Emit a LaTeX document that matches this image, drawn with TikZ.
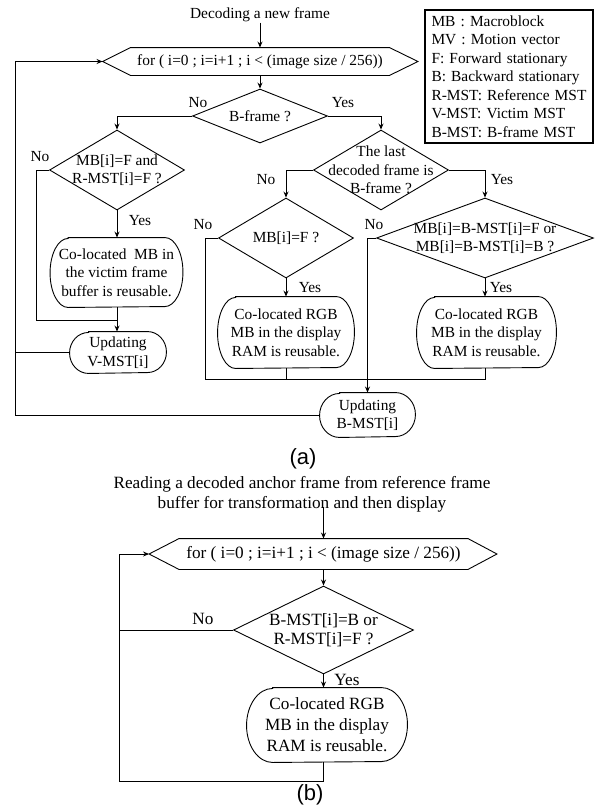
\documentclass[tikz,border=0pt]{standalone}
\usepackage{fontspec}
\setmainfont{Liberation Serif}
\newfontfamily\capfont{Liberation Sans}
\usetikzlibrary{shapes.geometric,arrows.meta,calc}

% outline of a terminal box: flat top and bottom, half-elliptical ends
% #1 node name, #2 end depth, #3 half height
\newcommand\pilloutline[3]{%
  \draw ([xshift=#2]#1.north west) -- ([xshift=-#2]#1.north east)
    arc[start angle=90,end angle=-90,x radius=#2,y radius=#3]
    -- ([xshift=#2]#1.south west)
    arc[start angle=270,end angle=90,x radius=#2,y radius=#3] -- cycle;}

% outline of a loop box: rectangle body with pointed ends
% #1 node name, #2 left tip depth, #3 right tip depth
\newcommand\hexoutline[3]{%
  \draw (#1.north west) -- (#1.north east) -- ([xshift=#3]#1.east)
    -- (#1.south east) -- (#1.south west)
    -- ([xshift=-#2]#1.west) coordinate (#1-l) -- cycle;}

\begin{document}
\begin{tikzpicture}[x=1pt,y=-1pt,
  font=\fontsize{15.4pt}{18.5pt}\selectfont,
  line width=0.9pt,
  flow/.style={-{Stealth[length=6pt,width=5pt]}},
  cond/.style={diamond,draw,inner sep=0pt},
  txt/.style={align=center,inner sep=0pt},
  act/.style={rectangle,inner sep=0pt,align=center},
  subcap/.style={txt,font=\capfont\fontsize{22pt}{26pt}\selectfont}]
\useasboundingbox (0,0) rectangle (597,812);

% ---------------- (a) ----------------
\node[txt] (start) at (260,15) {Decoding a new frame};

\node[txt,minimum width=258pt,minimum height=27pt] (loopA) at (260,61.5)
  {for ( i=0 ; i=i+1 ; i < (image size / 256))};
\hexoutline{loopA}{28pt}{28.5pt}

\node[draw,line width=1.8pt,text width=155pt,inner xsep=6.5pt,inner ysep=0pt,
      minimum height=133pt,align=left] (legend) at (509,76.5)
  {MB : Macroblock\\MV : Motion vector\\F: Forward stationary\\B: Backward stationary\\
   R-MST: Reference MST\\V-MST: Victim MST\\B-MST: B-frame MST};

\node[cond,minimum width=135pt,minimum height=54pt,
      label={[txt]center:{B-frame ?}}] (bframe) at (260,116) {};
\node[cond,minimum width=135pt,minimum height=80pt,
      label={[txt]center:{MB[i]=F and\\R-MST[i]=F ?}}] (d1) at (117,170) {};
\node[cond,minimum width=135pt,minimum height=80pt,
      label={[txt]center:{The last\\decoded frame is\\B-frame ?}}] (d2) at (381,170) {};
\node[cond,minimum width=135pt,minimum height=80pt,
      label={[txt]center:{MB[i]=F ?}}] (d3) at (286,238) {};
\node[cond,minimum width=217pt,minimum height=80pt,
      label={[txt]center:{MB[i]=B-MST[i]=F or\\MB[i]=B-MST[i]=B ?}}] (d4) at (485,238) {};

\node[act,minimum width=132pt,minimum height=69pt] (reuse1) at (116.5,272.5)
  {Co-located\ \ MB in\\the victim frame\\buffer is reusable.};
\pilloutline{reuse1}{18pt}{34.5pt}
\node[act,minimum width=96pt,minimum height=41pt] (vmst) at (118,352.5)
  {Updating\\V-MST[i]};
\pilloutline{vmst}{19pt}{20.5pt}
\node[act,minimum width=136pt,minimum height=71pt] (reuse2) at (286,332.5)
  {Co-located RGB\\MB in the display\\RAM is reusable.};
\pilloutline{reuse2}{18pt}{35.5pt}
\node[act,minimum width=139pt,minimum height=71pt] (reuse3) at (486.5,332.5)
  {Co-located RGB\\MB in the display\\RAM is reusable.};
\pilloutline{reuse3}{18pt}{35.5pt}
\node[act,minimum width=95pt,minimum height=44pt] (bmst) at (367.5,415)
  {Updating\\B-MST[i]};
\pilloutline{bmst}{20pt}{22pt}

% branch labels
\node[txt] (n1) at (198,103) {No};
\node[txt] (y1) at (343,103) {Yes};
\node[txt] (n2) at (40,157) {No};
\node[txt] (y2) at (140,221) {Yes};
\node[txt] (n3) at (266,180) {No};
\node[txt] (y3) at (502,180) {Yes};
\node[txt] (n4) at (203,225) {No};
\node[txt] (y4) at (310,288) {Yes};
\node[txt] (n5) at (374,225) {No};
\node[txt] (y5) at (501,288) {Yes};

% connectors
\draw[flow] (start.south) -- (loopA.north);
\draw[flow] (loopA.south) -- (bframe.north);
\draw[flow] (bframe.west) -| (d1.north);
\draw[flow] (bframe.east) -| (d2.north);
\draw[flow] (d1.south) -- (d1.south |- reuse1.north);
\draw[flow] (d1.south |- reuse1.south) -- (d1.south |- vmst.north);
\coordinate (c1) at (36,320);
\coordinate (j1) at (117,320);
\draw (d1.west) -| (c1) -- (j1);
\draw[flow] (d2.west) -| (d3.north);
\draw[flow] (d2.east) -| (d4.north);
\draw[flow] (d3.south) -- (reuse2.north);
\draw[flow] (d4.south) -- (d4.south |- reuse3.north);
\coordinate (m1) at (205,379);
\draw (d3.west) -| (m1) -- (d4.south |- m1) -- (d4.south |- reuse3.south);
\draw (reuse2.south) -- (reuse2.south |- m1);
\draw[flow] (d4.west) -- (d4.west -| bmst.north) -- (bmst.north);
\coordinate (lx) at (15,61.5);
\draw[flow] (bmst.west) -| (lx) -- (loopA-l);
\draw (vmst.west) -- (vmst.west -| lx);

\node[subcap] (capA) at (303,459) {(a)};

% ---------------- (b) ----------------
\begin{scope}[font=\fontsize{17.2pt}{20pt}\selectfont]
\node[txt] (read) at (302,494)
  {Reading a decoded anchor frame from reference frame\\buffer for transformation and then display};

\node[txt,minimum width=288pt,minimum height=30pt] (loopB) at (323.5,554)
  {for ( i=0 ; i=i+1 ; i < (image size / 256))};
\hexoutline{loopB}{30pt}{29pt}

\node[cond,minimum width=180pt,minimum height=88pt,
      label={[txt,font=\fontsize{17.2pt}{19pt}\selectfont]center:{B-MST[i]=B or\\R-MST[i]=F ?}}] (d5) at (323.5,630) {};
\node[act,minimum width=160pt,minimum height=74pt,
      font=\fontsize{17.2pt}{21pt}\selectfont] (reuse4) at (327,725)
  {Co-located RGB\\MB in the display\\RAM is reusable.};
\pilloutline{reuse4}{26pt}{37pt}

\node[txt] (n6) at (203,619) {No};
\node[txt] (y6) at (347,680) {Yes};

\coordinate (rs) at (323.5,507);
\draw[flow] (rs) -- (loopB.north);
\draw[flow] (loopB.south) -- (d5.north);
\draw[flow] (d5.south) -- (d5.south |- reuse4.north);
\coordinate (lxb) at (119,554);
\draw (d5.west) -- (d5.west -| lxb);
\draw[flow] (d5.south |- reuse4.south) -- ++(0,19) -| (lxb) -- (loopB-l);
\end{scope}

\node[subcap] (capB) at (310,795) {(b)};
\end{tikzpicture}
\end{document}
